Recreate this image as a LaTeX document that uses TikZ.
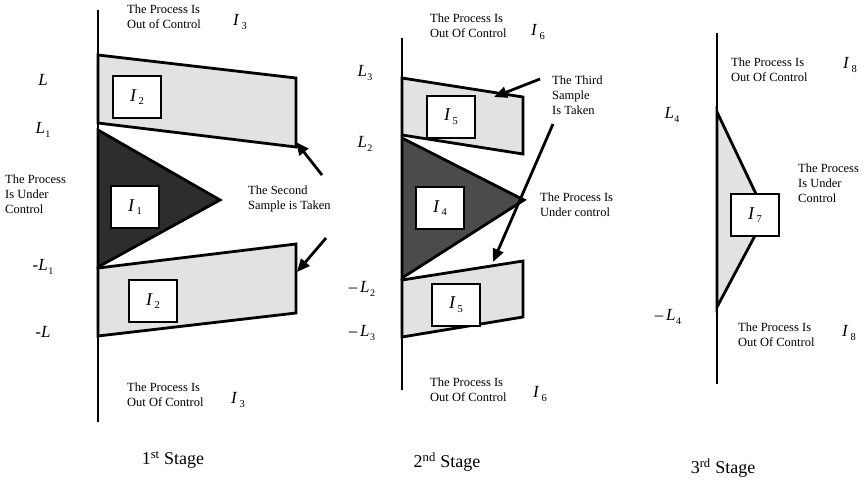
\documentclass[tikz,border=0pt]{standalone}
\usepackage{fontspec}
\setmainfont{Liberation Serif}
\usepackage{tikz}
\usetikzlibrary{arrows.meta,positioning,calc}
\definecolor{lightBand}{RGB}{226,226,226}
\definecolor{darkZone}{RGB}{45,45,45}
\definecolor{midZone}{RGB}{75,75,75}
\newcommand{\idx}[1]{\textit{I}\kern2pt\raisebox{-0.45ex}{\fontsize{10.5}{10.5}\selectfont #1}}
\newcommand{\lvl}[1]{\textit{L}\kern0.5pt\raisebox{-0.45ex}{\fontsize{10}{10}\selectfont #1}}

\begin{document}
\begin{tikzpicture}[x=1pt, y=-1pt,
    band/.style={draw=black, line width=2.8pt, fill=lightBand, line join=miter},
    zone/.style={draw=black, line width=2.8pt, line join=miter},
    axis/.style={line width=2.5pt},
    ibox/.style={rectangle, draw=black, line width=2.8pt, fill=white,
                 minimum width=48pt, minimum height=42pt, inner sep=0pt,
                 font=\fontsize{18}{18}\selectfont},
    note/.style={anchor=west, align=left, inner sep=0pt, font=\fontsize{12.5}{15}\selectfont},
    lab/.style={inner sep=0pt, font=\fontsize{17}{17}\selectfont},
    stage/.style={inner sep=0pt, font=\fontsize{18}{18}\selectfont},
    arr/.style={-{Triangle[length=13pt,width=11pt]}, line width=2.8pt}]

    \useasboundingbox (0,0) rectangle (866,482);

    % 1st stage
    \draw[band] (98,55) -- (296,78) -- (296,147) -- (98,123) -- cycle;
    \draw[band] (98,268) -- (296,244) -- (296,313) -- (98,336) -- cycle;
    \draw[zone, fill=darkZone] (98,130) -- (220,200) -- (98,267) -- cycle;
    \draw[axis] (98,10) -- (98,422);
    \node[ibox] (i2a) at (137,97) {\idx{2}};
    \node[ibox] (i1) at (135,207) {\idx{1}};
    \node[ibox] (i2b) at (153,301) {\idx{2}};

    \node[note] (out1a) at (127,17) {The Process Is\\Out of Control};
    \node[lab] (i3a) at (240,22) {\idx{3}};
    \node[note] (out1b) at (127,395) {The Process Is\\Out Of Control};
    \node[lab] (i3b) at (238,400) {\idx{3}};
    \node[note] (in1) at (5,194) {The Process\\Is Under\\Control};
    \node[note] (smp2) at (248,199) {The Second\\Sample is Taken};

    \node[lab] (la) at (43,80) {\textit{L}};
    \node[lab] (lb) at (43,130) {\lvl{1}};
    \node[lab] (lc) at (43,267) {-\lvl{1}};
    \node[lab] (ld) at (43,332) {-\textit{L}};

    \coordinate (s2a) at (322,175);
    \coordinate (t2a) at (296,142);
    \coordinate (s2b) at (326,238);
    \coordinate (t2b) at (297,272);
    \draw[arr] (s2a) -- (t2a);
    \draw[arr] (s2b) -- (t2b);

    \node[stage] (st1) at (173,460) {1\textsuperscript{st} Stage};

    % 2nd stage
    \draw[band] (402,78) -- (523,97) -- (523,154) -- (402,135) -- cycle;
    \draw[band] (402,280) -- (523,261) -- (523,317) -- (402,337) -- cycle;
    \draw[zone, fill=midZone] (402,138) -- (524,200) -- (402,278) -- cycle;
    \draw[axis] (402,38) -- (402,390);
    \node[ibox] (i5a) at (451,117) {\idx{5}};
    \node[ibox] (i4) at (440,208) {\idx{4}};
    \node[ibox] (i5b) at (456,305) {\idx{5}};

    \node[note] (out2a) at (430,26) {The Process Is\\Out Of Control};
    \node[lab] (i6a) at (538,32) {\idx{6}};
    \node[note] (out2b) at (430,390) {The Process Is\\Out Of Control};
    \node[lab] (i6b) at (540,394) {\idx{6}};
    \node[note] (smp3) at (552,95) {The Third\\Sample\\Is Taken};
    \node[note] (in2) at (540,205) {The Process Is\\Under control};

    \node[lab] (le) at (365,73) {\lvl{3}};
    \node[lab] (lf) at (365,144) {\lvl{2}};
    \node[lab] (lg) at (362,289) {--\,\lvl{2}};
    \node[lab] (lh) at (362,333) {--\,\lvl{3}};

    \coordinate (s3a) at (540,79);
    \coordinate (t3a) at (494,97);
    \coordinate (s3b) at (553,124);
    \coordinate (t3b) at (493,262);
    \draw[arr] (s3a) -- (t3a);
    \draw[arr] (s3b) -- (t3b);

    \node[stage] (st2) at (447,462) {2\textsuperscript{nd} Stage};

    % 3rd stage
    \draw[zone, fill=lightBand] (717,112) -- (766,215) -- (717,307) -- cycle;
    \draw[axis] (717,33) -- (717,384);
    \node[ibox] (i7) at (755,215) {\idx{7}};

    \node[note] (out3a) at (731,70) {The Process Is\\Out Of Control};
    \node[lab] (i8a) at (850,65) {\idx{8}};
    \node[note] (out3b) at (738,335) {The Process Is\\Out Of Control};
    \node[lab] (i8b) at (849,333) {\idx{8}};
    \node[note] (in3) at (798,183) {The Process\\Is Under\\Control};

    \node[lab] (li) at (672,115) {\lvl{4}};
    \node[lab] (lj) at (668,317) {--\,\lvl{4}};

    \node[stage] (st3) at (723,468) {3\textsuperscript{rd} Stage};

\end{tikzpicture}
\end{document}
